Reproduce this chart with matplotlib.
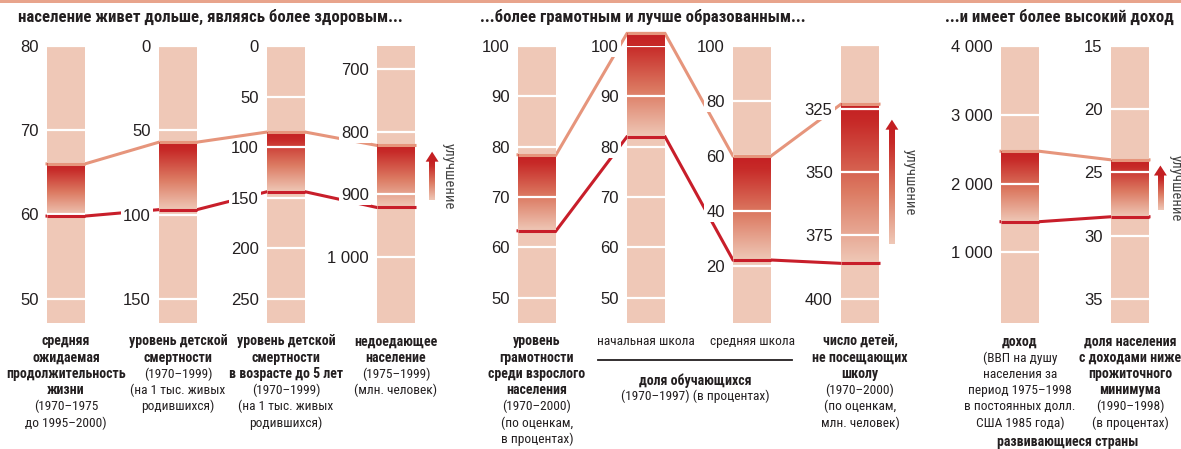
import numpy as np
import matplotlib
matplotlib.use('Agg')
import matplotlib.pyplot as plt
from matplotlib.lines import Line2D
from matplotlib.patches import Rectangle, Polygon
from matplotlib.colors import LinearSegmentedColormap
from matplotlib import font_manager
from matplotlib.font_manager import FontProperties

# ---------------- data ----------------
section_titles = ['население живет дольше, являясь более здоровым...',
                  '...более грамотным и лучше образованным...',
                  '...и имеет более высокий доход']
column_section = [0, 0, 0, 0, 1, 1, 1, 1, 2, 2]
start_values = [59.8, 97, 144, 921, 63.3, 82.0, 22.2, 386, 1445, 28.5]
end_values = [66.0, 57, 85, 822, 78.4, 102.5, 60.0, 323, 2470, 24.0]
tick_values = [[80, 70, 60, 50],
               [0, 50, 100, 150],
               [0, 50, 100, 150, 200, 250],
               [700, 800, 900, 1000],
               [100, 90, 80, 70, 60, 50],
               [100, 90, 80, 70, 60, 50],
               [100, 80, 60, 40, 20],
               [300, 325, 350, 375, 400],
               [4000, 3000, 2000, 1000],
               [15, 20, 25, 30, 35]]
scale_top = [80, 0, 0, 663.3, 100, 100, 100, 300.2, 4000, 15]
scale_bottom = [47.1, 164.2, 273.7, 1105.3, 45.0, 45.0, -0.7, 409.6, -28, 36.9]

column_labels = [
    [('средняя', 1), ('ожидаемая', 1), ('продолжительность', 1), ('жизни', 1),
     ('(1970–1975', 0), ('до 1995–2000)', 0)],
    [('уровень детской', 1), ('смертности', 1), ('(1970–1999)', 0),
     ('(на 1 тыс. живых', 0), ('родившихся)', 0)],
    [('уровень детской', 1), ('смертности', 1), ('в возрасте до 5 лет', 1),
     ('(1970–1999)', 0), ('(на 1 тыс. живых', 0), ('родившихся)', 0)],
    [('недоедающее', 1), ('население', 1), ('(1975–1999)', 0), ('(млн. человек)', 0)],
    [('уровень', 1), ('грамотности', 1), ('среди взрослого', 1), ('населения', 1),
     ('(1970–2000)', 0), ('(по оценкам,', 0), ('в процентах)', 0)],
    [('начальная школа', 0)],
    [('средняя школа', 0)],
    [('число детей,', 1), ('не посещающих', 1), ('школу', 1), ('(1970–2000)', 0),
     ('(по оценкам,', 0), ('млн. человек)', 0)],
    [('доход', 1), ('(ВВП на душу', 0), ('населения за', 0), ('период 1975–1998', 0),
     ('в постоянных долл.', 0), ('США 1985 года)', 0)],
    [('доля населения', 1), ('с доходами ниже', 1), ('прожиточного', 1), ('минимума', 1),
     ('(1990–1998)', 0), ('(в процентах)', 0)],
]
group_label = [('доля обучающихся', 1), ('(1970–1997) (в процентах)', 0)]
footer = 'развивающиеся страны'
arrow_text = 'улучшение'

# ---------------- fonts ----------------
names = {f.name for f in font_manager.fontManager.ttflist}
REG = 'Liberation Sans' if 'Liberation Sans' in names else 'DejaVu Sans'
plt.rcParams['font.family'] = [REG, 'DejaVu Sans']


def find_narrow(bold):
    prefs = ['liberationsansnarrow', 'robotocondensed', 'dejavusanscondensed',
             'notosanscondensed', 'opensanscondensed']
    cands = []
    for f in font_manager.fontManager.ttflist:
        base = f.fname.split('/')[-1].lower().replace('-', '').replace('_', '')
        if 'italic' in base or 'oblique' in base:
            continue
        isbold = 'bold' in base and 'semibold' not in base and 'extrabold' not in base
        if isbold != bold:
            continue
        if bold is False and any(w in base for w in ['light', 'thin', 'medium', 'black', 'semi', 'extra']):
            continue
        for r, p in enumerate(prefs):
            if base.startswith(p):
                cands.append((r, len(base), f.fname))
    if cands:
        cands.sort()
        return FontProperties(fname=cands[0][2])
    return FontProperties(family=REG, weight='bold' if bold else 'normal')


NB = find_narrow(True)
NR = find_narrow(False)

TXT = '#231F20'
BG = '#EFC8B7'
SALMON = '#E6957C'
RED = '#C81E2A'
BAND = '#E8A48C'
grad_cmap = LinearSegmentedColormap.from_list(
    'g', [(0, '#C41F22'), (0.12, '#C72A28'), (0.55, '#DC7A62'), (1, BG)])

W, H = 1181, 449
fig = plt.figure(figsize=(W / 100, H / 100), dpi=100)
fig.patch.set_facecolor('white')

col_left = [47, 159, 267, 377, 518, 627, 733, 841, 1001, 1111]
bar_w = 38
top_px, bot_px = 46, 323


def fx(px):
    return px / W


def fy(py):
    return 1 - py / H


def fp(base, size):
    p = base.copy()
    p.set_size(size)
    return p


grad = np.linspace(0, 1, 256).reshape(-1, 1)
axes = []
for i in range(10):
    ax = fig.add_axes([fx(col_left[i]), fy(bot_px), bar_w / W, (bot_px - top_px) / H])
    ax.set_facecolor('none')
    ax.bar(0.5, scale_bottom[i] - scale_top[i], bottom=scale_top[i], width=1.0,
           color=BG, zorder=1)
    im = ax.imshow(grad, extent=(0, 1, start_values[i], end_values[i]), aspect='auto',
                   cmap=grad_cmap, origin='upper', zorder=2, interpolation='bilinear')
    im.set_clip_on(False)
    ax.hlines(tick_values[i], 0, 1, color='white', lw=1.6, zorder=3)
    ax.plot([0, 1], [end_values[i]] * 2, color=SALMON, lw=2.2, zorder=5,
            solid_capstyle='butt', clip_on=False)
    ax.plot([0, 1], [start_values[i]] * 2, color=RED, lw=2.2, zorder=5,
            solid_capstyle='butt', clip_on=False)
    ax.set_xlim(0, 1)
    ax.set_ylim(scale_bottom[i], scale_top[i])
    labs = [f'{v:,}'.replace(',', ' ') for v in tick_values[i]]
    ax.set_yticks(tick_values[i], labs)
    ax.set_xticks([])
    ax.tick_params(axis='y', length=0, pad=6, labelsize=12, labelcolor=TXT)
    for lab in ax.get_yticklabels():
        lab.set_bbox(dict(boxstyle='square,pad=0.12', fc='white', ec='none'))
    for s in ax.spines.values():
        s.set_visible(False)
    axes.append(ax)

inv = fig.transFigure.inverted()
for sec in range(3):
    cols = [i for i in range(10) if column_section[i] == sec]
    for vals, color in ((end_values, SALMON), (start_values, RED)):
        pts = []
        for i in cols:
            pts.append(axes[i].transData.transform((0, vals[i])))
            pts.append(axes[i].transData.transform((1, vals[i])))
        pts = inv.transform(np.array(pts))
        fig.add_artist(Line2D(pts[:, 0], pts[:, 1], color=color, lw=2.2,
                              transform=fig.transFigure, zorder=-1,
                              solid_joinstyle='miter'))

arrow_x = [1.45, 1.34, 1.3]
text_x = [1.88, 1.8, 1.7]
for sec, i in enumerate([3, 7, 9]):
    ax = axes[i]
    hi, lo = end_values[i], start_values[i]
    ppu = (bot_px - top_px) / abs(scale_bottom[i] - scale_top[i])
    sgn = np.sign(scale_bottom[i] - scale_top[i])
    tip = hi + 0.1 * (lo - hi)
    base = hi + 0.88 * (lo - hi)
    head = tip + sgn * 10 / ppu
    xa = arrow_x[sec]
    shaft = ax.imshow(grad, extent=(xa - 0.07, xa + 0.07, base, head), aspect='auto',
                      cmap=grad_cmap, origin='upper', zorder=2, interpolation='bilinear')
    shaft.set_clip_on(False)
    ax.add_patch(Polygon([(xa - 0.17, head), (xa + 0.17, head), (xa, tip)], closed=True,
                         color='#C41F22', clip_on=False, zorder=3, lw=0))
    ax.text(text_x[sec], (tip + base) / 2, arrow_text, rotation=270, ha='center',
            va='center', fontproperties=fp(NR, 10.5), color='#444444', clip_on=False)
    ax.set_xlim(0, 1)
    ax.set_ylim(scale_bottom[i], scale_top[i])

fig.add_artist(Rectangle((0, fy(3)), 1, 3 / H, transform=fig.transFigure,
                         color=BAND, lw=0))
for t, x in zip(section_titles, [18, 480, 945]):
    fig.text(fx(x), fy(17), t, ha='left', va='center', fontproperties=fp(NB, 12.1),
             color=TXT)

for i, lines in enumerate(column_labels):
    cx = col_left[i] + bar_w / 2
    for k, (t, b) in enumerate(lines):
        fig.text(fx(cx), fy(341.5 + k * 16.3), t, ha='center', va='center',
                 fontproperties=fp(NB, 10) if b else fp(NR, 9.6), color=TXT)

gx = (col_left[5] + col_left[6] + bar_w) / 2 - 4
fig.add_artist(Line2D([fx(598), fx(792)], [fy(360), fy(360)], color=TXT, lw=1.3,
                      transform=fig.transFigure))
for k, (t, b) in enumerate(group_label):
    fig.text(fx(gx), fy(380.5 + k * 15.5), t, ha='center', va='center',
             fontproperties=fp(NB, 10) if b else fp(NR, 9.6), color=TXT)
fig.text(fx(1068), fy(442), footer, ha='center', va='center',
         fontproperties=fp(NB, 10), color=TXT)

fig.savefig('out.png', dpi=100, facecolor='white')
